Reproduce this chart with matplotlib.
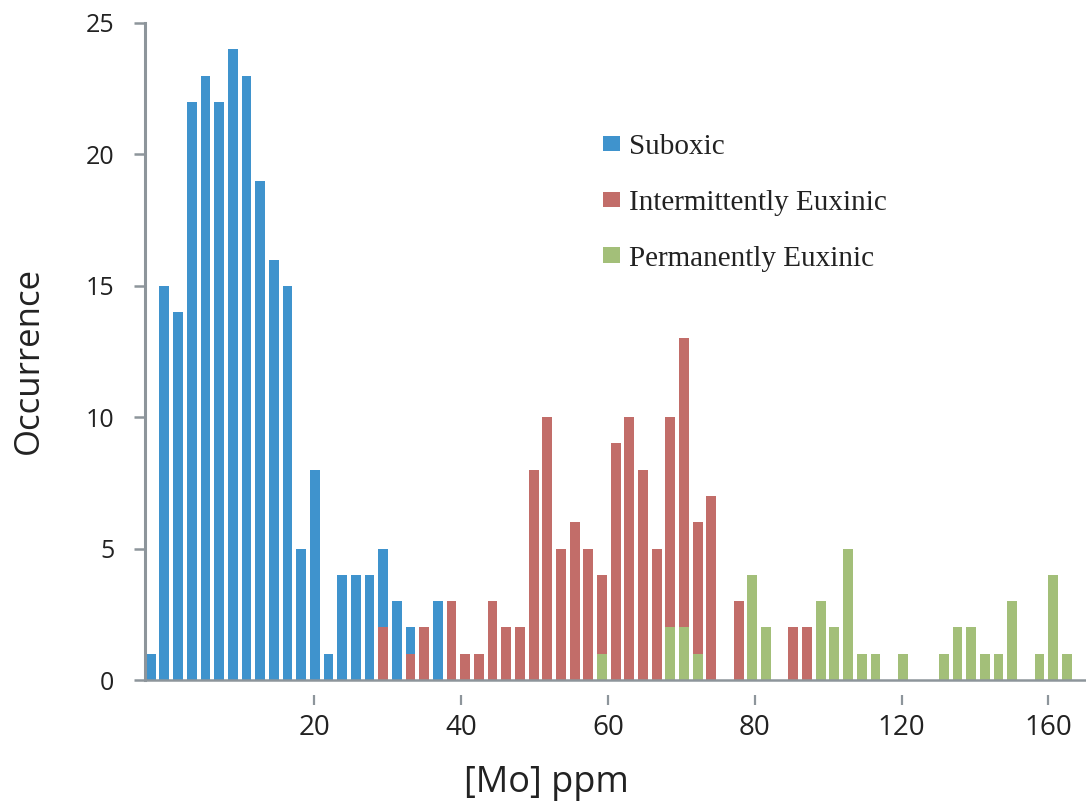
import numpy as np
import matplotlib
matplotlib.use("Agg")
import matplotlib.pyplot as plt

# counts per bin, bins numbered 1..68 from left to right
bins = np.arange(1, 69)

suboxic = [1, 15, 14, 22, 23, 22, 24, 23, 19, 16,
           15, 5, 8, 1, 4, 4, 4, 5, 3, 2,
           0, 3, 0, 0, 0, 0, 0, 0, 0, 0,
           0, 0, 0, 0, 0, 0, 0, 0, 0, 0,
           0, 0, 0, 0, 0, 0, 0, 0, 0, 0,
           0, 0, 0, 0, 0, 0, 0, 0, 0, 0,
           0, 0, 0, 0, 0, 0, 0, 0]

intermittent = [0, 0, 0, 0, 0, 0, 0, 0, 0, 0,
                0, 0, 0, 0, 0, 0, 0, 2, 0, 1,
                2, 0, 3, 1, 1, 3, 2, 2, 8, 10,
                5, 6, 5, 4, 9, 10, 8, 5, 10, 13,
                6, 7, 0, 3, 0, 0, 0, 2, 2, 0,
                0, 0, 0, 0, 0, 0, 0, 0, 0, 0,
                0, 0, 0, 0, 0, 0, 0, 0]

permanent = [0, 0, 0, 0, 0, 0, 0, 0, 0, 0,
             0, 0, 0, 0, 0, 0, 0, 0, 0, 0,
             0, 0, 0, 0, 0, 0, 0, 0, 0, 0,
             0, 0, 0, 1, 0, 0, 0, 0, 2, 2,
             1, 0, 0, 0, 4, 2, 0, 0, 0, 3,
             2, 5, 1, 1, 0, 1, 0, 0, 1, 2,
             2, 1, 1, 3, 0, 1, 4, 1]

series_names = ["Suboxic", "Intermittently Euxinic", "Permanently Euxinic"]
series_colors = ["#3f93cd", "#c26d69", "#a3bf79"]

xtick_labels = ["20", "40", "60", "80", "120", "160"]
ytick_values = [0, 5, 10, 15, 20, 25]

axis_grey = "#8d959b"
text_dark = "#222222"

fig = plt.figure(figsize=(10.86, 8.02), dpi=100)
ax = fig.add_axes([145 / 1086, 122 / 802, 941 / 1086, 657 / 802])

# series overlap in each bin, later ones drawn in front
handles = []
for vals, name, col in zip([suboxic, intermittent, permanent], series_names, series_colors):
    h = ax.bar(bins, vals, width=0.72, color=col, label=name, zorder=2)
    handles.append(h)

ax.set_xlim(0.58, 69.4)
ax.set_ylim(0, 25)

# left axis
for s in ["top", "right"]:
    ax.spines[s].set_visible(False)
ax.spines["left"].set_color(axis_grey)
ax.spines["left"].set_linewidth(2.2)
ax.spines["left"].set_bounds(0, 25)

# bottom axis: baseline drawn at zero, tick marks sit a little below it
ax.spines["bottom"].set_visible(False)
ax.spines["bottom"].set_position(("outward", 11))
ax.axhline(0, color=axis_grey, lw=1.8, zorder=3, clip_on=False)

ax.set_yticks(ytick_values)
ax.set_yticklabels([str(v) for v in ytick_values], fontsize=18, family="Open Sans",
                   color=text_dark)
ax.tick_params(axis="y", direction="out", length=8, width=1.8, color=axis_grey, pad=14)

xtick_pos = 12.95 + 10.74 * np.arange(len(xtick_labels))
ax.set_xticks(xtick_pos)
ax.set_xticklabels(xtick_labels, fontsize=20, family="Open Sans", color=text_dark)
ax.tick_params(axis="x", direction="out", length=7.5, width=1.6, color=axis_grey, pad=6)

ax.set_ylabel("Occurrence", fontsize=25, family="Open Sans", color=text_dark)
ax.yaxis.set_label_coords(-0.105, 0.487)

fig.text(546 / 1086, 1 - 792 / 802, "[Mo] ppm", fontsize=26, family="Open Sans",
         color=text_dark, ha="center", va="baseline")

ax.legend(handles=handles, loc="upper left", bbox_to_anchor=(603 / 1086, 1 - 134 / 802),
          bbox_transform=fig.transFigure, frameon=False,
          prop={"family": "Liberation Serif", "size": 21},
          handlelength=0.57, handleheight=0.45, handletextpad=0.32,
          labelspacing=1.02, borderpad=0, borderaxespad=0, labelcolor=text_dark)

fig.savefig("out.png", dpi=100)
